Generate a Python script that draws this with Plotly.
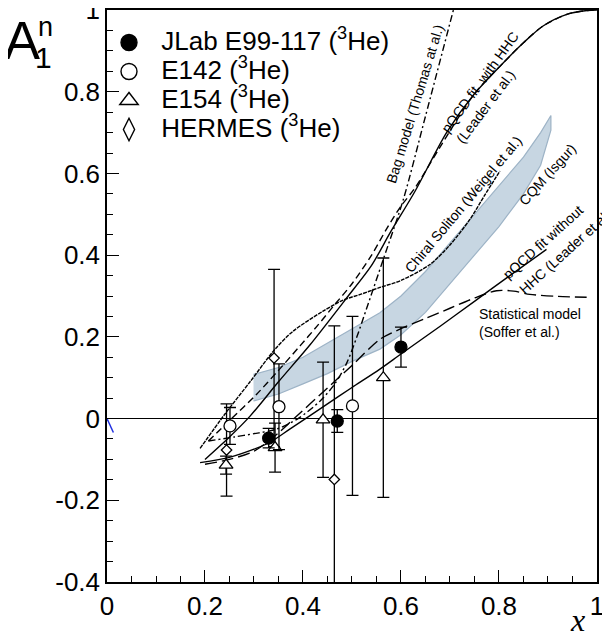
import plotly.graph_objects as go

# ---------------- data ----------------
jlab_x = [0.33, 0.47, 0.60]
jlab_y = [-0.048, -0.006, 0.175]
jlab_e = [0.024, 0.028, 0.049]

e142_x = [0.251, 0.351, 0.501]
e142_y = [-0.018, 0.029, 0.031]
e142_e = [0.045, 0.105, 0.219]

e154_x = [0.243, 0.343, 0.441, 0.564]
e154_y = [-0.114, -0.071, -0.003, 0.100]
e154_e = [0.022, 0.060, 0.141, 0.293]

herm_x = [0.244, 0.341, 0.464]
herm_y = [-0.077, 0.148, -0.149]
herm_e = [0.113, 0.217, 0.376]

bag_x = [0.207, 0.26, 0.30, 0.346, 0.39, 0.435, 0.465, 0.489, 0.51, 0.53, 0.564, 0.605, 0.65, 0.707]
bag_y = [-0.055, -0.045, -0.037, -0.026, 0.0, 0.043, 0.085, 0.135, 0.20, 0.27, 0.39, 0.537, 0.74, 1.0]

hhc_dash_x = [0.207, 0.25, 0.305, 0.35, 0.394, 0.43, 0.462, 0.50, 0.54, 0.571, 0.60, 0.629, 0.68, 0.75, 0.809, 0.85, 0.89, 0.94, 0.98, 1.0]
hhc_dash_y = [-0.055, -0.005, 0.059, 0.118, 0.178, 0.228, 0.275, 0.33, 0.40, 0.465, 0.52, 0.565, 0.665, 0.795, 0.871, 0.92, 0.961, 0.99, 0.999, 1.0]

hhc_solid_x = [0.20, 0.25, 0.292, 0.35, 0.414, 0.489, 0.54, 0.578, 0.629, 0.693, 0.75, 0.809, 0.85, 0.89, 0.94, 0.98, 1.0]
hhc_solid_y = [-0.10, -0.045, 0.006, 0.09, 0.18, 0.295, 0.375, 0.455, 0.557, 0.70, 0.795, 0.871, 0.92, 0.961, 0.99, 0.999, 1.0]

chiral_x = [0.19, 0.24, 0.292, 0.343, 0.38, 0.441, 0.482, 0.52, 0.557, 0.60, 0.659, 0.70, 0.741, 0.77, 0.802]
chiral_y = [-0.073, 0.01, 0.09, 0.170, 0.214, 0.263, 0.290, 0.305, 0.321, 0.338, 0.377, 0.425, 0.488, 0.545, 0.606]

stat_x = [0.20, 0.25, 0.30, 0.35, 0.38, 0.45, 0.50, 0.557, 0.60, 0.65, 0.70, 0.75, 0.795, 0.83, 0.863, 0.92, 0.979]
stat_y = [-0.112, -0.100, -0.08, -0.035, -0.002, 0.075, 0.13, 0.194, 0.22, 0.245, 0.27, 0.295, 0.313, 0.312, 0.304, 0.299, 0.297]

nohhc_x = [0.19, 0.25, 0.30, 0.333, 0.373, 0.45, 0.50, 0.557, 0.60, 0.68, 0.75, 0.82, 0.897]
nohhc_y = [-0.108, -0.095, -0.075, -0.058, -0.026, 0.036, 0.076, 0.121, 0.158, 0.226, 0.287, 0.348, 0.414]

cqm_x = [0.299, 0.35, 0.40, 0.45, 0.50, 0.557, 0.60, 0.65, 0.70, 0.75, 0.80, 0.85, 0.885, 0.906]
cqm_hi = [0.108, 0.125, 0.15, 0.185, 0.22, 0.259, 0.30, 0.36, 0.43, 0.50, 0.57, 0.64, 0.70, 0.742]
cqm_lo = [0.043, 0.06, 0.085, 0.11, 0.14, 0.17, 0.205, 0.26, 0.33, 0.40, 0.47, 0.55, 0.62, 0.706]

blue_x = [0.0, 0.013]
blue_y = [0.0, -0.034]

xtick_vals = [0, 0.2, 0.4, 0.6, 0.8, 1]
xtick_text = ["0", "0.2", "0.4", "0.6", "0.8", "1"]
ytick_vals = [-0.4, -0.2, 0, 0.2, 0.4, 0.6, 0.8, 1]
ytick_text = ["-0.4", "-0.2", "0", "0.2", "0.4", "0.6", "0.8", "1"]

FONT = "Liberation Sans, Arial, Helvetica, sans-serif"

# page offset (default body margin) compensation
OFF = 8
W, H = 602, 628
L, R, T, B = 107 - OFF, 13, 10 - OFF, 54
PW, PH = W - L - R, H - T - B  # plot area in px


def px_to_paper(px, py):
    return (px - OFF - L) / PW, (H - B - (py - OFF)) / PH


fig = go.Figure()

# CQM band
fig.add_trace(go.Scatter(
    x=cqm_x + cqm_x[::-1], y=cqm_hi + cqm_lo[::-1],
    fill="toself", fillcolor="rgba(196,212,224,0.95)",
    line=dict(color="#9db3c6", width=1.2), mode="lines",
    showlegend=False, hoverinfo="skip"))


def curve(x, y, dash, width=1.4, color="black"):
    fig.add_trace(go.Scatter(x=x, y=y, mode="lines",
                             line=dict(color=color, width=width, dash=dash, shape="spline", smoothing=0.8),
                             showlegend=False, hoverinfo="skip"))


curve(bag_x, bag_y, "7px,3px,2px,3px")
curve(hhc_dash_x, hhc_dash_y, "7px,4px")
curve(hhc_solid_x, hhc_solid_y, "solid")
curve(chiral_x, chiral_y, "4px,1px", width=1.4)
curve(stat_x, stat_y, "12px,5px")
curve(nohhc_x, nohhc_y, "solid")
curve(blue_x, blue_y, "solid", width=1.5, color="#2030e0")


def points(x, y, e, symbol, size, fill):
    fig.add_trace(go.Scatter(
        x=x, y=y, mode="markers",
        marker=dict(symbol=symbol, size=size, color=fill,
                    line=dict(color="black", width=1.3)),
        error_y=dict(type="data", array=e, visible=True, color="black", thickness=1.3, width=6),
        showlegend=False, hoverinfo="skip", cliponaxis=True))


points(herm_x, herm_y, herm_e, "diamond", 8, "white")
points(e154_x, e154_y, e154_e, "triangle-up", 12, "white")
points(e142_x, e142_y, e142_e, "circle", 12, "white")
points(jlab_x, jlab_y, jlab_e, "circle", 12, "black")

# legend-only entries
leg = [
    ("JLab E99-117 (<sup>3</sup>He)", "circle", 17, "black"),
    ("E142 (<sup>3</sup>He)", "circle-open", 16, "black"),
    ("E154 (<sup>3</sup>He)", "triangle-up-open", 17, "black"),
    ("HERMES (<sup>3</sup>He)", "diamond-tall-open", 17, "black"),
]
for name, sym, sz, col in leg:
    fig.add_trace(go.Scatter(x=[None], y=[None], mode="markers",
                             name="<span style='font-size:26px'>\u00a0" + name + "</span>",
                             marker=dict(symbol=sym, size=sz, color=col,
                                         line=dict(color="black", width=1.4))))

ann = []


def lab(text, x, y, ang, xanchor="center"):
    ann.append(dict(text=text, x=x, y=y, xref="x", yref="y", showarrow=False,
                    textangle=ang, xanchor=xanchor, yanchor="middle",
                    font=dict(family=FONT, size=14, color="black")))


lab("Bag model (Thomas at al.)", 0.629, 0.769, -73)
lab("pQCD fit  with HHC", 0.761, 0.825, -54)
lab("(Leader et al.)", 0.772, 0.763, -53)
lab("Chiral Soliton (Weigel et al.)", 0.728, 0.524, -50)
lab("CQM (Isgur)", 0.90, 0.598, -48)
lab("pQCD fit without", 0.89, 0.432, -42)
lab("HHC (Leader et al.)", 0.937, 0.41, -42)
lab("Statistical model", 0.755, 0.255, 0, "left")
lab("(Soffer et al.)", 0.755, 0.211, 0, "left")


def title_text(text, px, py, size, family=FONT):
    x, y = px_to_paper(px, py)
    ann.append(dict(text=text, x=x, y=y, xref="paper", yref="paper",
                    showarrow=False, xanchor="center", yanchor="middle",
                    font=dict(family=family, size=size, color="black")))


title_text("A", 22, 40, 54)
title_text("n", 45, 27, 27)
title_text("1", 43, 57, 30)
title_text("<i>x</i>", 577, 620, 32, "Liberation Serif, Times New Roman, serif")

axis_common = dict(showgrid=False, showline=True, linecolor="black", linewidth=1.5,
                   mirror=True, ticks="inside", ticklen=12, tickwidth=1.2, tickcolor="black",
                   ticklabeloverflow="allow",
                   tickfont=dict(family=FONT, size=26, color="black"),
                   minor=dict(dtick=0.05, ticks="inside", ticklen=6, tickwidth=1.2, tickcolor="black"))

lx, ly = px_to_paper(104, 23)

fig.update_layout(
    width=W, height=H,
    margin=dict(l=L, r=R, t=T, b=B, autoexpand=False),
    paper_bgcolor="white", plot_bgcolor="white",
    xaxis=dict(range=[0, 1.0001], tickvals=xtick_vals, ticktext=xtick_text, zeroline=False, **axis_common),
    yaxis=dict(range=[-0.4001, 1.0001], tickvals=ytick_vals, ticktext=ytick_text,
               zeroline=True, zerolinecolor="black", zerolinewidth=1.2, **axis_common),
    legend=dict(x=lx, y=ly, xanchor="left", yanchor="top", bgcolor="rgba(0,0,0,0)",
                itemwidth=40,
                font=dict(family=FONT, size=20, color="black"), tracegroupgap=0),
    annotations=ann,
)

fig.write_html("out.html")
